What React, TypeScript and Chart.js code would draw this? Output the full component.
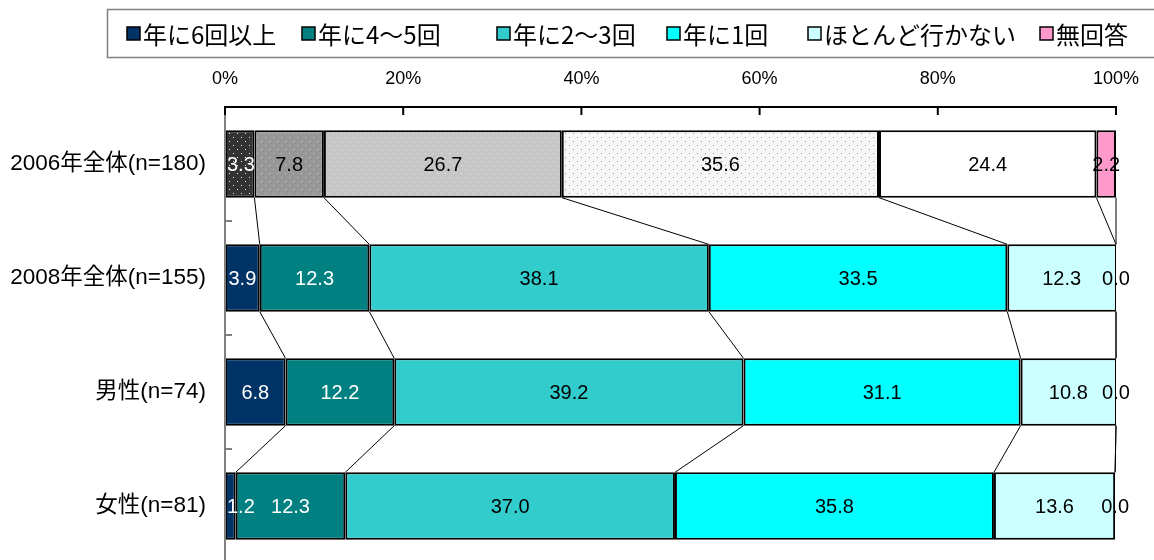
import React, { useEffect, useRef } from "react";
import { Chart, registerables } from "chart.js";

Chart.register(...registerables);

// Survey groups (rows) and answer categories (stacked series)
const categories = ["2006年全体(n=180)", "2008年全体(n=155)", "男性(n=74)", "女性(n=81)"];
const seriesNames = ["年に6回以上", "年に4～5回", "年に2～3回", "年に1回", "ほとんど行かない", "無回答"];

// Percentages per row, in the order of `categories`
const freq6OrMore = [3.3, 3.9, 6.8, 1.2];
const freq4to5 = [7.8, 12.3, 12.2, 12.3];
const freq2to3 = [26.7, 38.1, 39.2, 37.0];
const freqOnce = [35.6, 33.5, 31.1, 35.8];
const rarelyGo = [24.4, 12.3, 10.8, 13.6];
const noAnswer = [2.2, 0.0, 0.0, 0.0];

const seriesValues = [freq6OrMore, freq4to5, freq2to3, freqOnce, rarelyGo, noAnswer];

// Axis ticks (percent)
const xTickValues = [0, 20, 40, 60, 80, 100];

const seriesColors = ["#003366", "#008080", "#33CCCC", "#00FFFF", "#CCFFFF", "#FF99CC"];
// The 2006 row is drawn in dotted greys
const greyFills = [
  { bg: "#333333", dot: "#e8e8e8" },
  { bg: "#979797", dot: "#c8c8c8" },
  { bg: "#c6c6c6", dot: "#eeeeee" },
  { bg: "#f6f6f6", dot: "#9a9a9a" },
  { bg: "#ffffff", dot: null },
  { bg: "#FF99CC", dot: null },
];

const FONT = "'Liberation Sans', Arial, 'Noto Sans CJK JP', sans-serif";
const LEGEND_FONT = "'Noto Sans CJK JP', 'Liberation Sans', sans-serif";

// Left edge of each legend swatch
const legendSwatchX = [127, 302, 497, 667, 808, 1040];

function labelIsWhite(series: number, row: number): boolean {
  if (series === 0) return true;
  if (series === 1) return row !== 0;
  return false;
}

function makeDotPattern(bg: string, dot: string | null): CanvasPattern | string {
  if (!dot) return bg;
  const c = document.createElement("canvas");
  c.width = 8;
  c.height = 8;
  const g = c.getContext("2d")!;
  g.fillStyle = bg;
  g.fillRect(0, 0, 8, 8);
  g.fillStyle = dot;
  g.fillRect(1, 1, 1, 1);
  g.fillRect(5, 5, 1, 1);
  const p = g.createPattern(c, "repeat");
  return p || bg;
}

const overlayPlugin = {
  id: "overlay",
  afterDatasetsDraw(chart: any) {
    const ctx: CanvasRenderingContext2D = chart.ctx;
    const area = chart.chartArea;
    ctx.save();

    // series lines between consecutive bars
    ctx.strokeStyle = "#000";
    ctx.lineWidth = 1;
    chart.data.datasets.forEach((_: any, i: number) => {
      const meta = chart.getDatasetMeta(i);
      for (let j = 0; j < meta.data.length - 1; j++) {
        const a = meta.data[j];
        const b = meta.data[j + 1];
        const xa = Math.min(a.x, area.right);
        const xb = Math.min(b.x, area.right);
        ctx.beginPath();
        ctx.moveTo(xa, a.y + a.height / 2);
        ctx.lineTo(xb, b.y - b.height / 2);
        ctx.stroke();
      }
    });

    // value labels
    ctx.font = `20px ${FONT}`;
    ctx.textAlign = "center";
    ctx.textBaseline = "middle";
    chart.data.datasets.forEach((ds: any, i: number) => {
      const meta = chart.getDatasetMeta(i);
      meta.data.forEach((el: any, j: number) => {
        const v = ds.data[j] as number;
        const text = v.toFixed(1);
        const x1 = Math.min(el.x, area.right);
        const x0 = Math.min(el.base, area.right);
        let cx = (x0 + x1) / 2;
        const w = ctx.measureText(text).width;
        if (cx - w / 2 < area.left + 2) cx = area.left + 2 + w / 2;
        ctx.fillStyle = labelIsWhite(i, j) ? "#ffffff" : "#000000";
        ctx.fillText(text, cx, el.y + 1);
      });
    });
    ctx.restore();
  },
  afterDraw(chart: any) {
    const ctx: CanvasRenderingContext2D = chart.ctx;
    const area = chart.chartArea;
    const xs = chart.scales.x;
    const ys = chart.scales.y;
    ctx.save();

    // left axis (grey) with inner ticks between groups
    ctx.strokeStyle = "#808080";
    ctx.lineWidth = 2;
    ctx.beginPath();
    ctx.moveTo(area.left, area.top);
    ctx.lineTo(area.left, chart.height);
    ctx.stroke();
    for (let j = 0; j < categories.length - 1; j++) {
      const y = (ys.getPixelForValue(j) + ys.getPixelForValue(j + 1)) / 2;
      ctx.beginPath();
      ctx.moveTo(area.left, y);
      ctx.lineTo(area.left + 7, y);
      ctx.stroke();
    }

    // top axis with downward ticks
    ctx.strokeStyle = "#000";
    ctx.lineWidth = 2;
    ctx.beginPath();
    ctx.moveTo(area.left - 1, area.top);
    ctx.lineTo(area.right + 1, area.top);
    ctx.stroke();
    xTickValues.forEach((v) => {
      const x = xs.getPixelForValue(v);
      ctx.beginPath();
      ctx.moveTo(x, area.top);
      ctx.lineTo(x, area.top + 8);
      ctx.stroke();
    });

    // legend box
    const boxTop = 9.5;
    const boxBottom = 57.5;
    ctx.strokeStyle = "#808080";
    ctx.lineWidth = 1.5;
    ctx.strokeRect(107.5, boxTop, chart.width + 20, boxBottom - boxTop);
    ctx.font = `24px ${LEGEND_FONT}`;
    ctx.textAlign = "left";
    ctx.textBaseline = "middle";
    const midY = (boxTop + boxBottom) / 2;
    seriesNames.forEach((name, i) => {
      const x = legendSwatchX[i];
      ctx.fillStyle = seriesColors[i];
      ctx.fillRect(x, midY - 6.5, 13, 13);
      ctx.strokeStyle = "#000";
      ctx.lineWidth = 1.5;
      ctx.strokeRect(x, midY - 6.5, 13, 13);
      ctx.fillStyle = "#000";
      ctx.fillText(name, x + 16, midY + 1);
    });

    ctx.restore();
  },
};

export default function App() {
  const canvasRef = useRef<HTMLCanvasElement | null>(null);

  useEffect(() => {
    const canvas = canvasRef.current;
    if (!canvas) return;

    const datasets = seriesNames.map((name, i) => {
      const first = makeDotPattern(greyFills[i].bg, greyFills[i].dot);
      return {
        label: name,
        data: seriesValues[i],
        backgroundColor: categories.map((_, j) => (j === 0 ? first : seriesColors[i])),
        borderColor: "#000000",
        borderWidth: 2,
        borderSkipped: false,
        barPercentage: 0.59,
        categoryPercentage: 1,
      };
    });

    const chart = new Chart(canvas, {
      type: "bar",
      data: { labels: categories, datasets: datasets as any },
      options: {
        indexAxis: "y",
        responsive: false,
        animation: false,
        layout: { padding: { top: 0, left: 0, right: 38, bottom: 7 } },
        plugins: {
          legend: { display: false },
          tooltip: { enabled: false },
        },
        scales: {
          x: {
            type: "linear",
            position: "top",
            stacked: true,
            min: 0,
            max: 100,
            grid: { display: false, drawTicks: false },
            border: { display: false },
            ticks: {
              stepSize: 20,
              color: "#000",
              padding: 17,
              font: { size: 18, family: FONT },
              callback: (v: any) => `${v}%`,
            },
            afterFit: (s: any) => {
              s.height = 107;
              s.paddingLeft = 0;
              s.paddingRight = 0;
            },
          },
          y: {
            type: "category",
            stacked: true,
            grid: { display: false, drawTicks: false },
            border: { display: false },
            ticks: {
              color: "#000",
              padding: 19,
              font: { size: 22.5, family: FONT },
            },
            afterFit: (s: any) => {
              s.width = 225;
              s.paddingTop = 0;
              s.paddingBottom = 0;
            },
          },
        },
      },
      plugins: [overlayPlugin],
    });

    return () => chart.destroy();
  }, []);

  return (
    <div
      style={{
        position: "absolute",
        left: 0,
        top: 0,
        width: 1154,
        height: 560,
        overflow: "hidden",
        background: "#fff",
      }}
    >
      <canvas ref={canvasRef} width={1154} height={570} style={{ display: "block" }} />
    </div>
  );
}
